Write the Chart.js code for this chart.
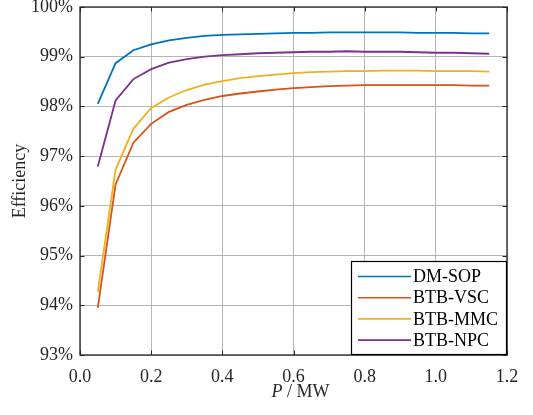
<!DOCTYPE html>
<html>
<head>
<meta charset="utf-8">
<script src="https://cdn.jsdelivr.net/npm/chart.js@4.4.0/dist/chart.umd.min.js"></script>
<style>
html,body{margin:0;padding:0;background:#fff;}
canvas{display:block;}
</style>
</head>
<body>
<canvas id="c" width="533" height="415"></canvas>
<script>
// ---- data ----
const powerMW = [0.05,0.10,0.15,0.20,0.25,0.30,0.35,0.40,0.45,0.50,0.55,0.60,0.65,0.70,0.75,0.80,0.85,0.90,0.95,1.00,1.05,1.10,1.15];
const dmSop  = [98.05,98.87,99.13,99.25,99.33,99.38,99.42,99.44,99.45,99.46,99.47,99.48,99.48,99.49,99.49,99.49,99.49,99.49,99.48,99.48,99.48,99.47,99.47];
const btbVsc = [93.95,96.43,97.27,97.65,97.89,98.03,98.13,98.21,98.26,98.30,98.34,98.37,98.39,98.41,98.42,98.43,98.43,98.43,98.43,98.43,98.43,98.42,98.42];
const btbMmc = [94.27,96.73,97.55,97.97,98.18,98.33,98.44,98.51,98.57,98.61,98.64,98.67,98.69,98.70,98.71,98.71,98.72,98.72,98.72,98.71,98.71,98.71,98.70];
const btbNpc = [96.79,98.12,98.55,98.75,98.88,98.95,99.00,99.03,99.05,99.07,99.08,99.09,99.10,99.10,99.11,99.10,99.10,99.10,99.09,99.08,99.08,99.07,99.06];
const seriesNames = ['DM-SOP','BTB-VSC','BTB-MMC','BTB-NPC'];
const seriesColors = ['#0072BD','#D95319','#EDB120','#7E2F8E'];
const xTitleItalic = 'P';
const xTitleRest = ' / MW';
const yTitle = 'Efficiency';

const FONT = '"Liberation Serif", "Times New Roman", serif';
const TXT = '#262626';
const GRID = '#b4b4b4';

const allSeries = [dmSop, btbVsc, btbMmc, btbNpc];
const datasets = allSeries.map((vals, i) => ({
  label: seriesNames[i],
  data: powerMW.map((x, j) => ({x: x, y: vals[j]})),
  borderColor: seriesColors[i],
  backgroundColor: seriesColors[i],
  borderWidth: 1.8,
  pointRadius: 0,
  tension: 0,
  fill: false
}));

const decorPlugin = {
  id: 'decor',
  afterDatasetsDraw(chart) {
    const ctx = chart.ctx;
    const a = chart.chartArea;
    const xs = chart.scales.x, ys = chart.scales.y;
    ctx.save();
    // inward ticks on all sides
    ctx.strokeStyle = TXT;
    ctx.lineWidth = 1;
    const tl = 4.5;
    ctx.beginPath();
    xs.ticks.forEach(t => {
      const px = Math.round(xs.getPixelForValue(t.value)) + 0.5;
      ctx.moveTo(px, a.bottom); ctx.lineTo(px, a.bottom - tl);
      ctx.moveTo(px, a.top); ctx.lineTo(px, a.top + tl);
    });
    ys.ticks.forEach(t => {
      const py = Math.round(ys.getPixelForValue(t.value)) + 0.5;
      ctx.moveTo(a.left, py); ctx.lineTo(a.left + tl, py);
      ctx.moveTo(a.right, py); ctx.lineTo(a.right - tl, py);
    });
    ctx.stroke();
    // axes box
    ctx.lineWidth = 1.3;
    ctx.strokeRect(a.left, a.top, a.right - a.left, a.bottom - a.top);

    // legend box (inside, bottom-right)
    const bw = 156, bh = 94;
    const bx = a.right - bw, by = a.bottom - bh;
    ctx.fillStyle = '#fff';
    ctx.fillRect(bx, by, bw, bh);
    ctx.lineWidth = 1.2;
    ctx.strokeStyle = '#000';
    ctx.strokeRect(bx + 0.5, by + 0.5, bw - 1, bh - 1);
    ctx.font = '18px ' + FONT;
    ctx.textBaseline = 'middle';
    ctx.textAlign = 'left';
    chart.data.datasets.forEach((ds, i) => {
      const ry = by + 15.5 + i * 21.2;
      ctx.strokeStyle = ds.borderColor;
      ctx.lineWidth = 1.6;
      ctx.beginPath();
      ctx.moveTo(bx + 7, ry); ctx.lineTo(bx + 60, ry);
      ctx.stroke();
      ctx.fillStyle = '#000';
      ctx.fillText(ds.label, bx + 62, ry + 1);
    });

    // axis titles
    ctx.fillStyle = TXT;
    ctx.textBaseline = 'alphabetic';
    ctx.font = 'italic 18px ' + FONT;
    const w1 = ctx.measureText(xTitleItalic).width;
    ctx.font = '18px ' + FONT;
    const w2 = ctx.measureText(xTitleRest).width;
    const cx = (a.left + a.right) / 2 + 7;
    const sx = cx - (w1 + w2) / 2;
    const ty = a.bottom + 42;
    ctx.font = 'italic 18px ' + FONT;
    ctx.textAlign = 'left';
    ctx.fillText(xTitleItalic, sx, ty);
    ctx.font = '18px ' + FONT;
    ctx.fillText(xTitleRest, sx + w1, ty);

    ctx.translate(25, (a.top + a.bottom) / 2);
    ctx.rotate(-Math.PI / 2);
    ctx.textAlign = 'center';
    ctx.fillText(yTitle, 0, 0);
    ctx.restore();
  }
};

new Chart(document.getElementById('c'), {
  type: 'line',
  data: { datasets: datasets },
  options: {
    responsive: false,
    devicePixelRatio: 1,
    animation: false,
    layout: { padding: { left: 0, top: 7, right: 26, bottom: 0 } },
    plugins: { legend: { display: false }, tooltip: { enabled: false } },
    scales: {
      x: {
        type: 'linear',
        min: 0, max: 1.2,
        ticks: {
          stepSize: 0.2,
          color: TXT,
          font: { family: FONT, size: 18 },
          padding: 11,
          maxRotation: 0,
          callback: v => Number(v).toFixed(1)
        },
        grid: { color: GRID, lineWidth: 1, drawTicks: false },
        border: { display: false },
        afterFit: s => { s.height = 60; s.paddingLeft = 0; s.paddingRight = 0; }
      },
      y: {
        min: 93, max: 100,
        ticks: {
          stepSize: 1,
          color: TXT,
          font: { family: FONT, size: 18 },
          padding: 7,
          callback: v => v + '%'
        },
        grid: { color: GRID, lineWidth: 1, drawTicks: false },
        border: { display: false },
        afterFit: s => { s.width = 80; s.paddingTop = 0; s.paddingBottom = 0; }
      }
    }
  },
  plugins: [decorPlugin]
});
</script>
</body>
</html>
